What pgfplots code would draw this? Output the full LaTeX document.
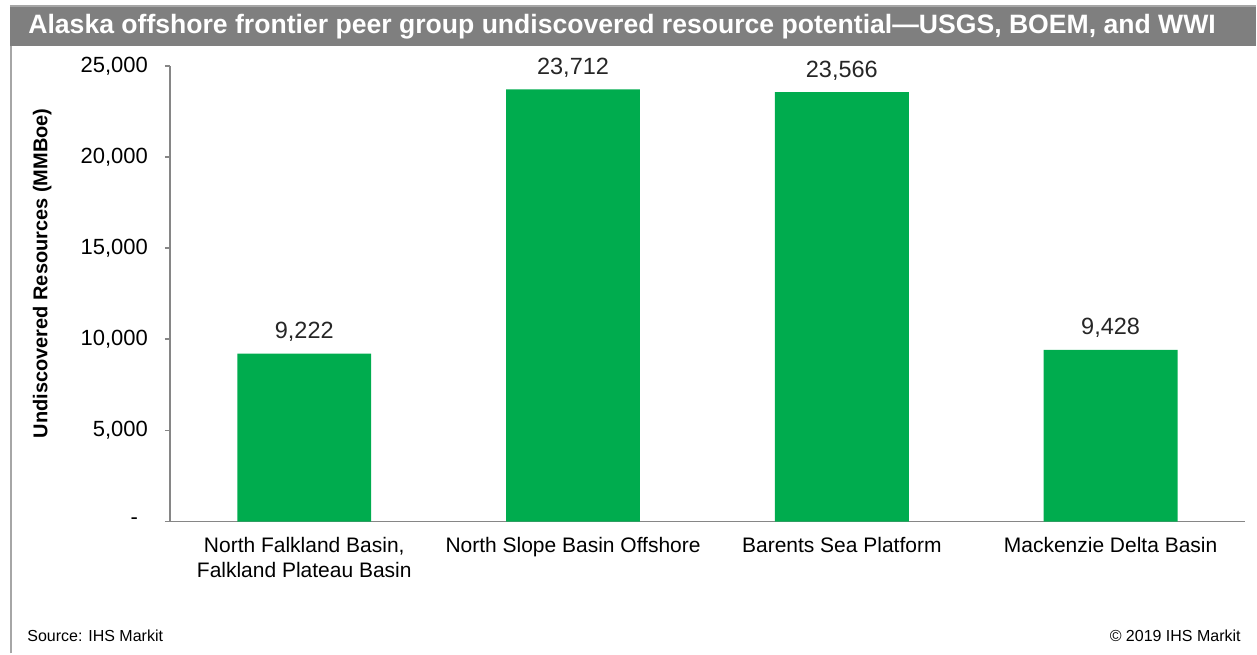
\documentclass[border=0pt]{standalone}
\usepackage{pgfplots}
\pgfplotsset{compat=1.18}
\usepackage{fontspec}
\setmainfont{Liberation Sans}
\definecolor{barg}{HTML}{00AC4E}
\definecolor{axg}{HTML}{868686}
\definecolor{titleg}{HTML}{7F7F7F}
\definecolor{bordg}{HTML}{A6A6A6}
\begin{document}
\begin{tikzpicture}[x=0.5pt,y=0.5pt]
\path (0,0) rectangle (1257,654);
\fill[titleg] (10,608) rectangle (1257,647);
\draw[bordg, line width=1pt] (10,647.5) -- (1257,647.5);
\draw[bordg, line width=1.2pt] (11,0) -- (11,608);
\node[white, font=\bfseries\fontsize{13.3}{15}\selectfont, anchor=west, inner sep=0pt] at (28,627) {Alaska offshore frontier peer group undiscovered resource potential---USGS, BOEM, and WWI};
\node[font=\fontsize{8}{10}\selectfont, anchor=base west, inner sep=0pt] at (27,12) {Source: IHS Markit};
\node[font=\fontsize{8}{10}\selectfont, anchor=base east, inner sep=0pt] at (1242,12) {\textcopyright\ 2019 IHS Markit};
\begin{axis}[
  at={(85pt,66pt)}, anchor=south west,
  scale only axis, width=538pt, height=228pt,
  xmin=-0.5, xmax=3.5, ymin=0, ymax=25000,
  scaled y ticks=false,
  ybar, bar width=67pt,
  axis lines*=left,
  axis line style={axg, line width=0.9pt},
  tick style={axg, line width=0.9pt},
  tick align=outside,
  major tick length=2.5pt, minor tick length=2.5pt,
  xtick={0,1,2,3},
  xtick style={draw=none},
  minor xtick={-0.5,0.5,1.5,2.5,3.5},
  xticklabels={{North Falkland Basin,\\Falkland Plateau Basin},{North Slope Basin Offshore},{Barents Sea Platform},{Mackenzie Delta Basin}},
  xticklabel style={align=center, font=\fontsize{10.5}{12.5}\selectfont, yshift=-2pt},
  ytick={0,5000,10000,15000,20000,25000},
  yticklabels={{-\rule{5pt}{0pt}},{5,000},{10,000},{15,000},{20,000},{25,000}},
  yticklabel style={font=\fontsize{11}{13}\selectfont, xshift=-5pt},
  ylabel={Undiscovered Resources (MMBoe)},
  every axis y label/.style={at={(axis description cs:-0.1188,0.545)}, rotate=90, anchor=center, font=\bfseries\fontsize{10}{12}\selectfont},
  nodes near coords,
  /pgf/number format/1000 sep={,},
  every node near coord/.append style={anchor=base, yshift=7.5pt, font=\fontsize{11.75}{14}\selectfont, /pgf/number format/assume math mode=true, text=black!85},
]
\addplot[fill=barg, draw=none] coordinates {(0,9222) (1,23712) (2,23566) (3,9428)};
\end{axis}
\end{tikzpicture}
\end{document}
